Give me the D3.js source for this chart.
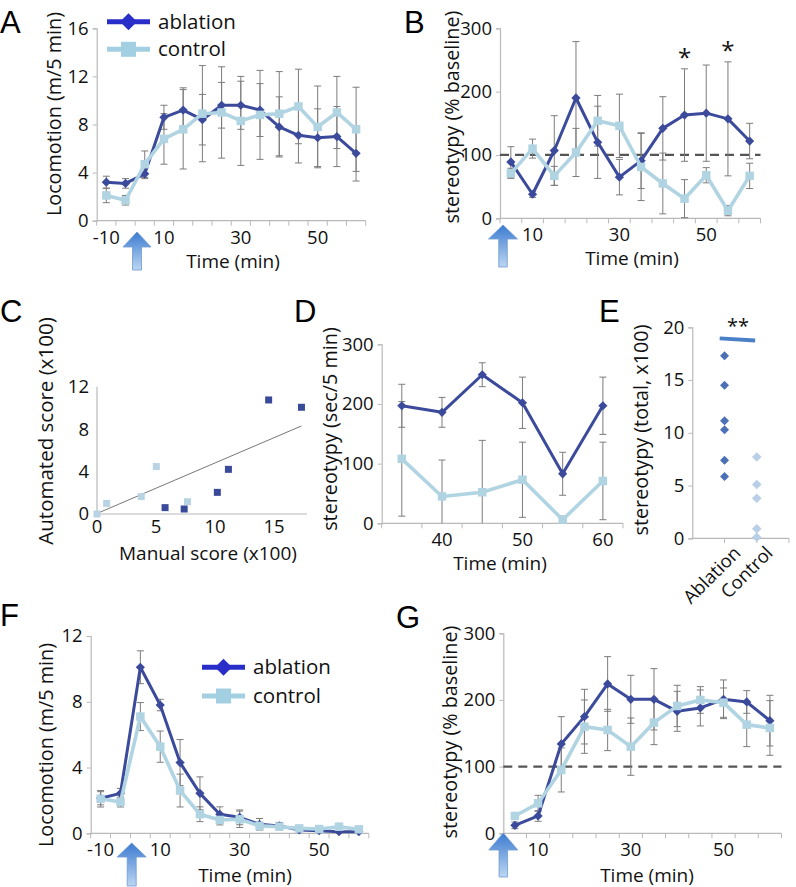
<!DOCTYPE html>
<html><head><meta charset="utf-8">
<script src="https://cdn.jsdelivr.net/npm/d3@7"></script>
<style>body{margin:0;background:#fff}svg{display:block}</style>
</head><body>
<svg id="fig" width="796" height="887"></svg>
<script>
// ---------- DATA ----------
// Panel A: locomotion, time categories (min)
const timeA = ["-10","-5","5","10","15","20","25","30","35","40","45","50","55","60"];
const ablA    = [3.2,3.1,3.9,8.6,9.2,8.4,9.6,9.6,9.2,7.8,7.1,6.9,7.0,5.6];
const ablAErr = [0.5,0.4,0.4,1.0,1.85,2.1,1.9,2.0,2.2,2.5,2.3,2.4,2.5,2.3];
const ctlA    = [2.1,1.7,4.7,6.8,7.6,8.9,9.0,8.3,8.8,8.9,9.5,7.8,9.0,7.6];
const ctlAErr = [0.6,0.4,1.1,2.1,3.3,4.0,3.8,3.7,3.7,3.5,3.1,3.4,3.0,3.5];
const yTicksA = [0,4,8,12,16];
const xLabA = ["-10","10","30","50"];

// Panel B: stereotypy (% baseline)
const timeB = ["5","10","15","20","25","30","35","40","45","50","55","60"];
const ablB    = [89,38,107,190,120,65,91,142,163,166,157,122];
const ablBErr = [24,5,55,89,57,28,44,50,73,76,90,28];
const ctlB    = [71,110,67,104,154,146,81,55,31,68,12,67];
const ctlBErr = [8,15,15,38,40,50,53,48,30,12,8,20];
const yTicksB = [0,100,200,300];
const xLabB = ["10","30","50"];
const starsB = ["45","55"];

// Panel C: manual vs automated score (x100)
const manualAbl = [5.77,7.39,10.2,11.14,14.55,17.33];
const autoAbl   = [0.6,0.47,2.04,4.21,10.75,10.06];
const manualCtl = [0,0.82,3.75,5.03,7.67];
const autoCtl   = [0,1.0,1.64,4.47,1.16];
const trendX = [0,17.33];
const trendY = [0.05,8.3];
const xTicksC = [0,5,10,15];
const yTicksC = [0,4,8,12];

// Panel D: stereotypy (sec/5 min)
const timeD = ["35","40","45","50","55","60"];
const ablD    = [197,186,249,202,83,197];
const ablDErr = [36,25,20,43,36,48];
const ctlD    = [108,45,52,73,6,71];
const ctlDErr = [96,61,87,63,6,65];
const yTicksD = [0,100,200,300];
const xLabD = ["40","50","60"];

// Panel E: total stereotypy (x100)
const groupsE = ["Ablation","Control"];
const ablE = [17.3,14.5,11.15,10.3,7.4,5.85];
const ctlE = [7.7,5.1,3.8,0.9,0.1];
const yTicksE = [0,5,10,15,20];

// Panel F: locomotion
const timeF = ["-10","-5","5","10","15","20","25","30","35","40","45","50","55","60"];
const ablF    = [2.13,2.43,10.1,7.8,4.3,2.43,1.16,0.97,0.55,0.45,0.2,0.16,0.1,0.1];
const ablFErr = [0.4,0.3,1.0,0.35,1.4,1.0,0.45,0.45,0.35,0.2,0.1,0.1,0.25,0.1];
const ctlF    = [2.1,1.9,7.1,5.27,2.6,1.16,0.81,0.85,0.45,0.4,0.3,0.26,0.4,0.24];
const ctlFErr = [0.5,0.3,0.85,0.95,1.0,0.45,0.3,0.5,0.2,0.15,0.1,0.1,0.2,0.1];
const yTicksF = [0,4,8,12];
const xLabF = ["-10","10","30","50"];

// Panel G: stereotypy (% baseline)
const timeG = ["5","10","15","20","25","30","35","40","45","50","55","60"];
const ablG    = [12,26,134,175,224,201,201,183,188,201,197,169];
const ablGErr = [5,8,41,41,41,36,46,30,27,29,17,38];
const ctlG    = [26,45,95,160,155,130,166,191,200,196,163,158];
const ctlGErr = [5,12,33,40,31,43,33,31,20,22,33,41];
const yTicksG = [0,100,200,300];
const xLabG = ["10","30","50"];

// ---------- STYLE ----------
const FONT = "'Open Sans', 'DejaVu Sans', sans-serif";
const C_ABL = "#3b4a9b", C_CTL = "#b1d4e3", C_ERR = "#7c7c7c", C_AX = "#b9b9b9";
const svg = d3.select("#fig");

const defs = svg.append("defs");
const grad = defs.append("linearGradient").attr("id","arrowGrad").attr("x1",0).attr("y1",0).attr("x2",0).attr("y2",1);
grad.append("stop").attr("offset","0%").attr("stop-color","#3c7bd0");
grad.append("stop").attr("offset","100%").attr("stop-color","#bcd6f2");

function diamond(r){ return `M0,${-r}L${r},0L0,${r}L${-r},0Z`; }
function square(s){ const h=s/2; return `M${-h},${-h}H${h}V${h}H${-h}Z`; }

function panelLetter(t,x,y){
  svg.append("text").attr("x",x).attr("y",y).text(t)
    .attr("font-family","'Liberation Sans', Arial, sans-serif").attr("font-size",31).attr("fill","#000");
}
function txt(t,x,y,size,opts={}){
  const e = svg.append("text").attr("x",x).attr("y",y).text(t)
    .attr("font-family",FONT).attr("font-size",size).attr("fill","#111")
    .attr("text-anchor",opts.anchor||"middle").attr("dy",opts.dy||"0.35em");
  if(opts.rot!==undefined) e.attr("transform",`rotate(${opts.rot},${x},${y})`);
  return e;
}
function arrow(cx,tip,base,bottom,headW,shaftW){
  const hw=headW/2, sw=shaftW/2;
  svg.append("path")
    .attr("d",`M${cx},${tip}L${cx+hw},${base}L${cx+sw},${base}L${cx+sw},${bottom}L${cx-sw},${bottom}L${cx-sw},${base}L${cx-hw},${base}Z`)
    .attr("fill","url(#arrowGrad)").attr("stroke","#6f9ad2").attr("stroke-width",0.8);
}
function yAxis(y,x0,ticks){
  const g = svg.append("g").attr("transform",`translate(${x0},0)`)
    .call(d3.axisLeft(y).tickValues(ticks).tickSize(4).tickPadding(4).tickFormat(d3.format("d")));
  g.select(".domain").attr("stroke",C_AX).attr("stroke-width",1.2);
  g.selectAll(".tick line").attr("stroke",C_AX);
  g.selectAll(".tick text").attr("font-family",FONT).attr("font-size",18.5).attr("fill","#111");
  return g;
}

function linePanel(o){
  const x = d3.scaleBand().domain(o.cats).range([o.left,o.right]).padding(0);
  const y = d3.scaleLinear().domain(o.yDomain).range([o.bottom,o.top]);
  const bw = x.bandwidth(), cx = c => x(c)+bw/2;
  const y0 = y(o.yDomain[0]);
  yAxis(y,o.left,o.yTicks);
  // x axis
  const xa = svg.append("g");
  xa.append("line").attr("x1",o.left).attr("x2",o.right).attr("y1",y0).attr("y2",y0).attr("stroke",C_AX).attr("stroke-width",1.2);
  const bounds = o.cats.map(c=>x(c)).concat([o.right]);
  xa.selectAll("line.tk").data(bounds).join("line").attr("class","tk")
    .attr("x1",d=>d).attr("x2",d=>d).attr("y1",y0).attr("y2",y0+5).attr("stroke",C_AX);
  const tickY = y0+16.5;
  o.xLabels.forEach(l=>txt(l,cx(l),tickY,18.5));
  txt("Time (min)",o.titleX,Math.max(o.titleY,tickY+24),19);
  txt(o.yTitle,o.yTitleX,o.yTitleY,19.8,{rot:-90});
  if(o.dashed!==undefined){
    svg.append("line").attr("x1",o.left).attr("x2",o.right).attr("y1",y(o.dashed)).attr("y2",y(o.dashed))
      .attr("stroke","#555").attr("stroke-width",2.2).attr("stroke-dasharray","9,6");
  }
  const series = [
    {v:o.abl, e:o.ablErr, col:C_ABL, w:3, m:"d"},
    {v:o.ctl, e:o.ctlErr, col:C_CTL, w:3.6, m:"s"}
  ];
  // error bars
  series.forEach(s=>{
    const g = svg.append("g").attr("stroke",C_ERR).attr("stroke-width",1);
    o.cats.forEach((c,i)=>{
      if(!s.e) return;
      const hi = s.v[i]+s.e[i], lo = Math.max(o.yDomain[0], s.v[i]-s.e[i]);
      const xx = cx(c);
      g.append("line").attr("x1",xx).attr("x2",xx).attr("y1",y(hi)).attr("y2",y(lo));
      g.append("line").attr("x1",xx-3.5).attr("x2",xx+3.5).attr("y1",y(hi)).attr("y2",y(hi));
      if(s.v[i]-s.e[i] >= o.yDomain[0])
        g.append("line").attr("x1",xx-3.5).attr("x2",xx+3.5).attr("y1",y(lo)).attr("y2",y(lo));
    });
  });
  series.forEach(s=>{
    const line = d3.line().x((d,i)=>cx(o.cats[i])).y(d=>y(d));
    svg.append("path").attr("d",line(s.v)).attr("fill","none").attr("stroke",s.col)
      .attr("stroke-width",s.w).attr("stroke-linejoin","round");
    svg.append("g").selectAll("path").data(s.v).join("path")
      .attr("transform",(d,i)=>`translate(${cx(o.cats[i])},${y(d)})`)
      .attr("d", s.m==="d" ? diamond(4.6) : square(8.5))
      .attr("fill",s.col);
  });
  return {x,y,cx};
}

function legend(x,yA,yC){
  svg.append("line").attr("x1",x).attr("x2",x+43).attr("y1",yA).attr("y2",yA).attr("stroke","#2a2ec8").attr("stroke-width",5);
  svg.append("path").attr("transform",`translate(${x+21.5},${yA})`).attr("d",diamond(8.5)).attr("fill","#2a2ec8");
  svg.append("line").attr("x1",x).attr("x2",x+43).attr("y1",yC).attr("y2",yC).attr("stroke","#a2d0e2").attr("stroke-width",5);
  svg.append("path").attr("transform",`translate(${x+21.5},${yC})`).attr("d",square(15)).attr("fill","#a2d0e2");
  txt("ablation",x+51,yA,20.5,{anchor:"start"});
  txt("control",x+51,yC,20.5,{anchor:"start"});
}

// ---------- PANEL A ----------
panelLetter("A",0,33);
linePanel({cats:timeA, left:96.7, right:365.7, top:28.3, bottom:220.7, yDomain:[0,16], yTicks:yTicksA,
  xLabels:xLabA, abl:ablA, ablErr:ablAErr, ctl:ctlA, ctlErr:ctlAErr,
  titleX:233, titleY:258, yTitle:"Locomotion (m/5 min)", yTitleX:54, yTitleY:114});
arrow(137,232,247,270,28,9);
legend(107,21.7,49.3);

// ---------- PANEL B ----------
panelLetter("B",404,33);
const pB = linePanel({cats:timeB, left:500, right:760.5, top:28.3, bottom:218.3, yDomain:[0,300], yTicks:yTicksB,
  xLabels:xLabB, abl:ablB, ablErr:ablBErr, ctl:ctlB, ctlErr:ctlBErr, dashed:100,
  titleX:632, titleY:258, yTitle:"stereotypy (% baseline)", yTitleX:452, yTitleY:117});
starsB.forEach(c=>{
  const i = timeB.indexOf(c);
  svg.append("text").attr("x",pB.cx(c)).attr("y",pB.y(ablB[i]+ablBErr[i])-3).text("*")
    .attr("font-family",FONT).attr("font-size",24).attr("text-anchor","middle").attr("fill","#111");
});
arrow(503,225,239,267,29,8.5);

// ---------- PANEL C ----------
panelLetter("C",0,322);
{
  const x = d3.scaleLinear().domain([0,17.8]).range([97,307]);
  const y = d3.scaleLinear().domain([0,12]).range([514,386.7]);
  svg.append("line").attr("x1",97).attr("x2",307).attr("y1",514).attr("y2",514).attr("stroke",C_AX).attr("stroke-width",1.2);
  svg.append("line").attr("x1",97).attr("x2",97).attr("y1",386.7).attr("y2",514).attr("stroke",C_AX).attr("stroke-width",1.2);
  yTicksC.forEach(t=>txt(String(t),89,y(t),18.5,{anchor:"end"}));
  xTicksC.forEach(t=>txt(String(t),x(t),527,18.5));
  txt("Manual score (x100)",208,553,19);
  txt("Automated score (x100)",46,431,20.5,{rot:-90});
  svg.append("line").attr("x1",x(trendX[0])).attr("y1",y(trendY[0])).attr("x2",x(trendX[1])).attr("y2",y(trendY[1]))
    .attr("stroke","#777").attr("stroke-width",1);
  svg.append("g").selectAll("path").data(manualCtl).join("path")
    .attr("transform",(d,i)=>`translate(${x(d)},${y(autoCtl[i])})`).attr("d",square(7)).attr("fill","#b8d3e3");
  svg.append("g").selectAll("path").data(manualAbl).join("path")
    .attr("transform",(d,i)=>`translate(${x(d)},${y(autoAbl[i])})`).attr("d",square(7)).attr("fill","#3a4a9a");
}

// ---------- PANEL D ----------
panelLetter("D",294,322);
linePanel({cats:timeD, left:381.7, right:623, top:344.3, bottom:523.3, yDomain:[0,300], yTicks:yTicksD,
  xLabels:xLabD, abl:ablD, ablErr:ablDErr, ctl:ctlD, ctlErr:ctlDErr,
  titleX:500, titleY:560, yTitle:"stereotypy (sec/5 min)", yTitleX:330, yTitleY:429});

// ---------- PANEL E ----------
panelLetter("E",599,322);
{
  const x = d3.scaleLinear().domain([0,3]).range([692.3,789]);
  const y = d3.scaleLinear().domain([0,20]).range([538.3,327.3]);
  yAxis(y,692.3,yTicksE);
  svg.append("line").attr("x1",692.3).attr("x2",789).attr("y1",538.3).attr("y2",538.3).attr("stroke",C_AX).attr("stroke-width",1.2);
  [1,2,3].forEach(t=>svg.append("line").attr("x1",x(t)).attr("x2",x(t)).attr("y1",538.3).attr("y2",543).attr("stroke",C_AX));
  groupsE.forEach((g,i)=>{
    const px = x(i+1)+8, py = 545;
    svg.append("text").attr("transform",`translate(${px},${py}) rotate(-45)`).text(g)
      .attr("font-family",FONT).attr("font-size",18.5).attr("text-anchor","end").attr("dy","0.7em").attr("fill","#111");
  });
  txt("stereotypy (total, x100)",641,430,19.8,{rot:-90});
  svg.append("g").selectAll("path").data(ablE).join("path")
    .attr("transform",d=>`translate(${x(1)},${y(d)})`).attr("d",diamond(4.5)).attr("fill","#4c70b6");
  svg.append("g").selectAll("path").data(ctlE).join("path")
    .attr("transform",d=>`translate(${x(2)},${y(d)})`).attr("d",diamond(4.8)).attr("fill","#b9cfe7");
  svg.append("line").attr("x1",x(0.85)).attr("x2",x(1.95)).attr("y1",y(18.95)).attr("y2",y(18.75))
    .attr("stroke","#4a80c8").attr("stroke-width",4);
  txt("**",738,326,20);
}

// ---------- PANEL F ----------
panelLetter("F",0,626);
linePanel({cats:timeF, left:90.7, right:368.8, top:636, bottom:833.3, yDomain:[0,12], yTicks:yTicksF,
  xLabels:xLabF, abl:ablF, ablErr:ablFErr, ctl:ctlF, ctlErr:ctlFErr,
  titleX:245, titleY:875, yTitle:"Locomotion (m/5 min)", yTitleX:46, yTitleY:745});
arrow(131.7,843,857,886,29,9);
legend(202,667.3,696);

// ---------- PANEL G ----------
panelLetter("G",396,628);
linePanel({cats:timeG, left:503.3, right:781.5, top:633.3, bottom:833.3, yDomain:[0,300], yTicks:yTicksG,
  xLabels:xLabG, abl:ablG, ablErr:ablGErr, ctl:ctlG, ctlErr:ctlGErr, dashed:100,
  titleX:647, titleY:875, yTitle:"stereotypy (% baseline)", yTitleX:450, yTitleY:732});
arrow(503.3,833,850,877,29,8.5);
</script>
</body></html>
